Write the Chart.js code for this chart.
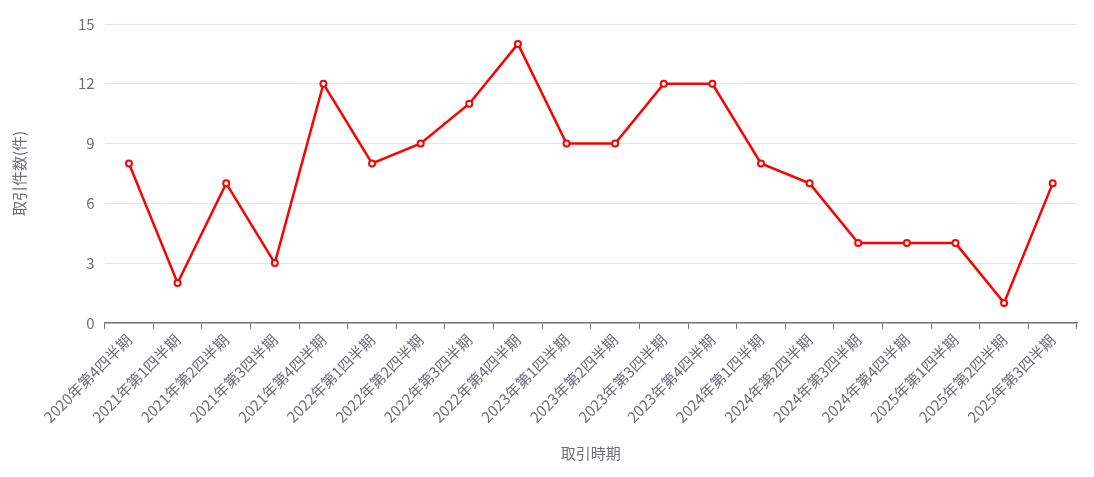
<!DOCTYPE html>
<html>
<head>
<meta charset="utf-8">
<script src="https://cdn.jsdelivr.net/npm/chart.js@4/dist/chart.umd.min.js"></script>
<style>
  html, body { margin: 0; padding: 0; background: #ffffff; }
  #wrap { width: 1094px; height: 477px; position: relative; }
</style>
</head>
<body>
<div id="wrap"><canvas id="c" width="1094" height="477"></canvas></div>
<script>
// Quarterly transaction counts
const quarters = [
  '2020年第4四半期', '2021年第1四半期', '2021年第2四半期', '2021年第3四半期',
  '2021年第4四半期', '2022年第1四半期', '2022年第2四半期', '2022年第3四半期',
  '2022年第4四半期', '2023年第1四半期', '2023年第2四半期', '2023年第3四半期',
  '2023年第4四半期', '2024年第1四半期', '2024年第2四半期', '2024年第3四半期',
  '2024年第4四半期', '2025年第1四半期', '2025年第2四半期', '2025年第3四半期'
];
const counts = [8, 2, 7, 3, 12, 8, 9, 11, 14, 9, 9, 12, 12, 8, 7, 4, 4, 4, 1, 7];
const yTicks = [0, 3, 6, 9, 12, 15];

const xTitle = '取引時期';
const yTitle = '取引件数(件)';

const FONT = '"Noto Sans CJK JP", "Noto Sans", sans-serif';
const AXIS_GREY = '#6E7079';

new Chart(document.getElementById('c'), {
  type: 'line',
  data: {
    labels: quarters,
    datasets: [{
      data: counts,
      borderColor: '#ff0000',
      borderWidth: 2.5,
      backgroundColor: '#ffffff',
      pointBackgroundColor: '#ffffff',
      pointBorderColor: '#ff0000',
      pointBorderWidth: 2,
      pointRadius: 3,
      tension: 0,
      fill: false
    }]
  },
  options: {
    responsive: false,
    animation: false,
    layout: { padding: { top: 24, right: 17, bottom: 15, left: 4 } },
    plugins: {
      legend: { display: false },
      tooltip: { enabled: false }
    },
    scales: {
      x: {
        type: 'category',
        offset: true,
        grid: {
          offset: true,
          drawOnChartArea: false,
          drawTicks: true,
          tickLength: 6,
          color: AXIS_GREY
        },
        border: { display: true, color: AXIS_GREY, width: 1.5 },
        ticks: {
          autoSkip: false,
          minRotation: 45,
          maxRotation: 45,
          color: AXIS_GREY,
          padding: 2,
          font: { family: FONT, size: 15 }
        },
        title: {
          display: true,
          text: xTitle,
          color: AXIS_GREY,
          padding: { top: 16, bottom: 0 },
          font: { family: FONT, size: 15 }
        }
      },
      y: {
        min: 0,
        max: 15,
        afterBuildTicks: (axis) => { axis.ticks = yTicks.map(v => ({ value: v })); },
        grid: {
          color: '#E0E6F1',
          drawTicks: false
        },
        border: { display: false },
        ticks: {
          color: AXIS_GREY,
          padding: 10,
          font: { family: FONT, size: 15 }
        },
        title: {
          display: true,
          text: yTitle,
          color: AXIS_GREY,
          padding: { top: 6, bottom: 40 },
          font: { family: FONT, size: 15 }
        }
      }
    }
  }
});
</script>
</body>
</html>
